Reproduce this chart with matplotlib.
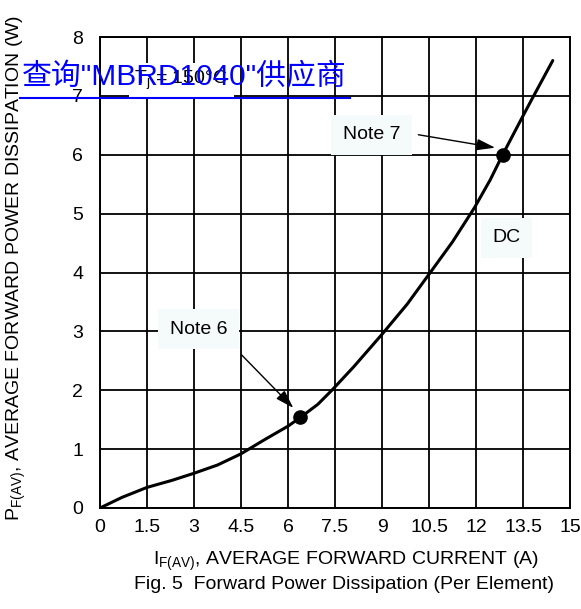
import matplotlib
matplotlib.use("Agg")
import matplotlib.pyplot as plt
from matplotlib.lines import Line2D

plt.rcParams['font.family'] = ['Liberation Sans', 'DejaVu Sans']
plt.rcParams['mathtext.fontset'] = 'custom'
plt.rcParams['mathtext.rm'] = 'Liberation Sans'
plt.rcParams['mathtext.it'] = 'Liberation Sans'

# ---- data ----
curve_x = [0, 0.7, 1.5, 2.3, 3.0, 3.75, 4.5, 5.25, 6.0, 6.4, 6.95, 7.4, 8.1,
           9.0, 9.8, 10.5, 11.25, 11.95, 12.45, 12.85, 13.5, 13.8, 14.45]
curve_y = [0, 0.18, 0.35, 0.47, 0.59, 0.73, 0.92, 1.16, 1.39, 1.54, 1.76, 2.0,
           2.40, 2.95, 3.46, 3.97, 4.52, 5.1, 5.57, 6.0, 6.66, 6.96, 7.6]

note_x = [6.37, 12.85]
note_y = [1.54, 6.0]
note_labels = ["Note 6", "Note 7"]
note_label_x = [3.14, 8.67]
note_label_y = [3.04, 6.34]
arrow_start_x = [4.52, 10.16]
arrow_start_y = [2.60, 6.34]
arrow_end_x = [6.17, 12.61]
arrow_end_y = [1.70, 6.12]

x_ticks = [0, 1.5, 3, 4.5, 6, 7.5, 9, 10.5, 12, 13.5, 15]
x_tick_labels = ["0", "1.5", "3", "4.5", "6", "7.5", "9", "10.5", "12", "13.5", "15"]
y_ticks = [0, 1, 2, 3, 4, 5, 6, 7, 8]
y_tick_labels = ["0", "1", "2", "3", "4", "5", "6", "7", "8"]

W, H = 581, 609
fig = plt.figure(figsize=(W / 100, H / 100), dpi=100)
ax = fig.add_axes([100 / W, 1 - 508 / H, 470 / W, 471 / H])

ax.set_xlim(0, 15)
ax.set_ylim(0, 8)
ax.set_xticks(x_ticks)
ax.set_xticklabels(x_tick_labels)
ax.set_yticks(y_ticks)
ax.set_yticklabels(y_tick_labels)
ax.grid(True, color='black', lw=1.3)
ax.set_axisbelow(True)
for s in ax.spines.values():
    s.set_linewidth(1.4)
ax.tick_params(length=0, labelsize=14, colors='black')
ax.tick_params(axis='x', pad=8)
ax.tick_params(axis='y', pad=12)

ax.plot(curve_x, curve_y, color='black', lw=2.2, solid_joinstyle='round',
        solid_capstyle='round', zorder=3)
ax.plot(note_x, note_y, 'o', ms=9.5, color='black', zorder=4)

box = dict(boxstyle='square,pad=0.6', facecolor='#f5fafa', edgecolor='none')
for lbl, lx, ly in zip(note_labels, note_label_x, note_label_y):
    ax.text(lx, ly, lbl, fontsize=14, ha='center', va='center', bbox=box, zorder=5)
for sx, sy, ex, ey in zip(arrow_start_x, arrow_start_y, arrow_end_x, arrow_end_y):
    ax.annotate('', xy=(ex, ey), xytext=(sx, sy),
                arrowprops=dict(arrowstyle='-|>,head_length=0.8,head_width=0.25',
                                color='black', lw=1.0, shrinkA=0, shrinkB=0,
                                mutation_scale=14), zorder=5)

ax.text(12.97, 4.59, "DC", fontsize=14, ha='center', va='center',
        bbox=dict(boxstyle='square,pad=0.6', facecolor='#f5fafa', edgecolor='none'), zorder=5)
ax.text(2.59, 7.27, r"$\mathrm{T_j}$ = 150°C", fontsize=14, ha='center', va='center',
        bbox=dict(boxstyle='square,pad=0.3', facecolor='white', edgecolor='none'), zorder=5)

fig.text(16 / W, 1 - 268 / H,
         r"$\mathrm{P_{F(AV)}}$, AVERAGE FORWARD POWER DISSIPATION (W)",
         rotation=90, ha='center', va='center', fontsize=14)
fig.text(346 / W, 1 - 565 / H,
         r"$\mathrm{I_{F(AV)}}$, AVERAGE FORWARD CURRENT (A)",
         ha='center', va='baseline', fontsize=14)
fig.text(344 / W, 1 - 589 / H,
         "Fig. 5  Forward Power Dissipation (Per Element)",
         ha='center', va='baseline', fontsize=14)

blue = '#0000ff'
t = fig.text(22 / W, 1 - 85 / H, '查询"MBRD1040"供应商', color=blue, fontsize=21.5,
             family=['Liberation Sans', 'Noto Sans CJK SC'], ha='left', va='baseline',
             zorder=10)
fig.canvas.draw()
bb = t.get_window_extent()
uy = 1 - 97.5 / H
fig.add_artist(Line2D([(bb.x0 - 2) / W, (bb.x1 + 3) / W], [uy, uy], color=blue, lw=1.5,
                      transform=fig.transFigure, zorder=10))

fig.savefig("out.png", dpi=100)
